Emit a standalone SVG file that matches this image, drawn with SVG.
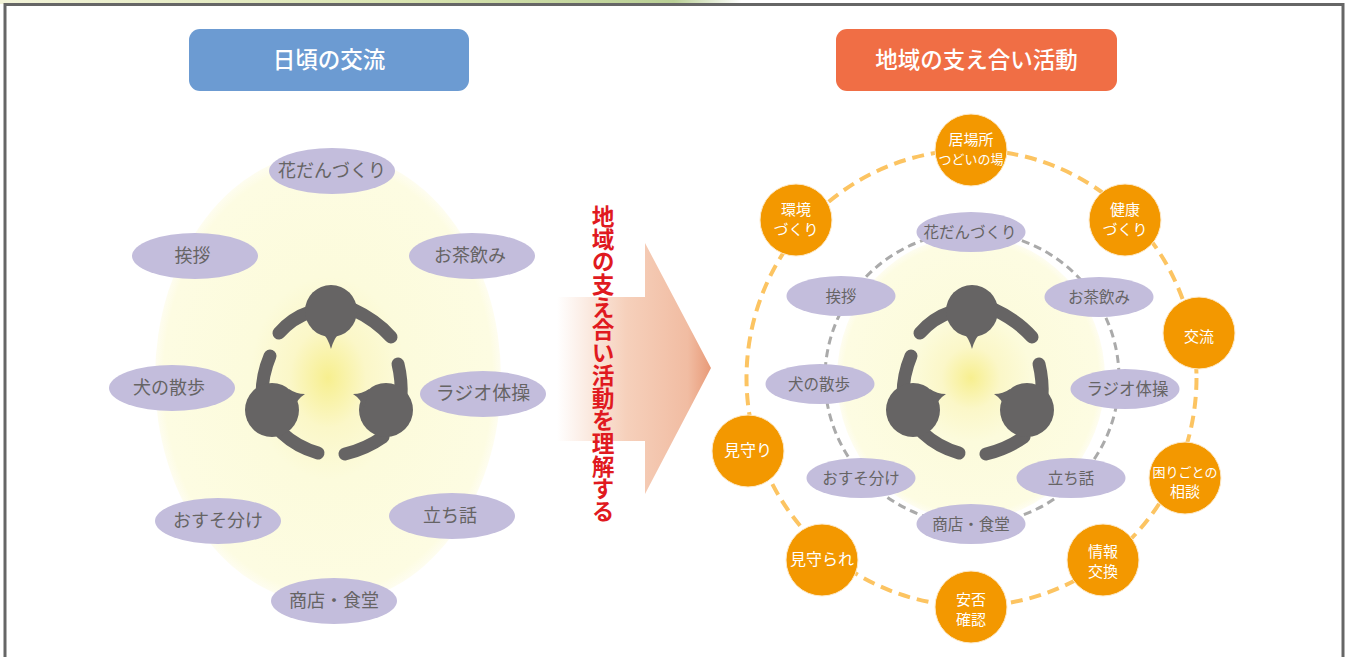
<svg xmlns="http://www.w3.org/2000/svg" xmlns:xlink="http://www.w3.org/1999/xlink" width="1348" height="657" viewBox="0 0 1348 657">
<style>
text{font-family:"Noto Sans CJK JP","Noto Sans CJK SC",sans-serif;text-anchor:middle}
.head{fill:#fff;font-size:22.500px;font-weight:500}
.el{fill:#c3bddc}
.t1{fill:#666464;font-size:18px}
.t2{fill:#666464;font-size:15.500px}
.c{fill:#f39800;stroke:#fde9c8;stroke-width:1}
.w{fill:#fff;font-size:15px}
.ws{fill:#fff;font-size:13px}
.arm{fill:none;stroke:#666464;stroke-width:13;stroke-linecap:round}
.body{fill:#666464}
</style>
<defs>
<linearGradient id="top" x1="0" x2="1" y1="0" y2="0"><stop offset="0" stop-color="#f2f3d8"/><stop offset="0.3" stop-color="#d9e4b0"/><stop offset="0.5" stop-color="#b9cf95"/><stop offset="0.55" stop-color="#fff"/><stop offset="1" stop-color="#fff"/></linearGradient>
<radialGradient id="glow"><stop offset="0" stop-color="#f7ef8f"/><stop offset="0.22" stop-color="#fbf7c8"/><stop offset="0.45" stop-color="#fcfbdc"/><stop offset="0.95" stop-color="#fdfce2"/><stop offset="1" stop-color="#fefdf0"/></radialGradient>
<linearGradient id="arrow" gradientUnits="userSpaceOnUse" x1="557" x2="711" y1="0" y2="0"><stop offset="0" stop-color="#fff"/><stop offset="0.45" stop-color="#f6d0bb"/><stop offset="0.85" stop-color="#f1bca2"/><stop offset="1" stop-color="#e89a78"/></linearGradient>
<g id="people">
<path class="arm" d="M279 333Q292 318 310 312"/>
<path class="arm" d="M391 337Q376 320 352 309"/>
<circle class="body" cx="331" cy="311" r="26"/>
<path class="body" d="M322 332Q328 338 331 349Q334 338 340 332Z"/>
<path class="arm" d="M270 356Q262 375 262 395"/>
<path class="arm" d="M318 453Q297 447 282 433"/>
<circle class="body" cx="272" cy="410" r="27"/>
<path class="body" d="M289 389Q296 394 305 394Q297 399 294 408Z"/>
<path class="arm" d="M398 364Q402 380 401 398"/>
<path class="arm" d="M345 454Q366 449 383 437"/>
<circle class="body" cx="386" cy="410" r="27"/>
<path class="body" d="M369 389Q362 394 353 394Q361 399 364 408Z"/>
</g>
</defs>
<rect width="1348" height="657" fill="#fff"/>
<rect width="1348" height="4" fill="url(#top)"/>
<rect x="5" y="4.500" width="1338" height="660" fill="#fff" stroke="#666" stroke-width="3"/>

<g id="glow-left"><ellipse cx="328" cy="378" rx="173" ry="226" fill="url(#glow)"/></g>
<g id="glow-right"><ellipse cx="971" cy="378" rx="134" ry="142" fill="url(#glow)"/></g>

<g id="connectors" fill="none">
<ellipse cx="971.500" cy="378" rx="225" ry="228" stroke="#fcc462" stroke-width="4" stroke-dasharray="12 7"/>
<ellipse cx="972" cy="378" rx="147" ry="146" stroke="#aaa" stroke-width="3" stroke-dasharray="8 5"/>
</g>

<g id="arrow-big">
<path d="M557 297H645V243L711 368L645 494V441H557Z" fill="url(#arrow)"/>
<text x="603" y="205" writing-mode="vertical-rl" style="font-size:22.700px;font-weight:700;fill:#e01a1f;text-anchor:start">地域の支え合い活動を理解する</text>
</g>

<g id="header-left"><rect x="189" y="29" width="280" height="62" rx="11" fill="#6c9bd2"/><text class="head" x="329" y="67.500">日頃の交流</text></g>
<g id="header-right"><rect x="836" y="29" width="281" height="62" rx="11" fill="#f06e45"/><text class="head" x="976.500" y="67.500">地域の支え合い活動</text></g>

<use xlink:href="#people" href="#people"/>
<use xlink:href="#people" href="#people" x="641"/>

<g id="l1"><ellipse class="el" cx="332" cy="171" rx="63" ry="23"/><text class="t1" x="332" y="177">花だんづくり</text></g>
<g id="l2"><ellipse class="el" cx="195" cy="256" rx="63" ry="23"/><text class="t1" x="192.500" y="262">挨拶</text></g>
<g id="l3"><ellipse class="el" cx="472" cy="256" rx="63" ry="23"/><text class="t1" x="470" y="262">お茶飲み</text></g>
<g id="l4"><ellipse class="el" cx="172" cy="388" rx="63" ry="23"/><text class="t1" x="169" y="394">犬の散歩</text></g>
<g id="l5"><ellipse class="el" cx="483" cy="394" rx="63" ry="23"/><text class="t1" x="483" y="400" style="font-size:19px">ラジオ体操</text></g>
<g id="l6"><ellipse class="el" cx="218" cy="521" rx="63" ry="23"/><text class="t1" x="218" y="527">おすそ分け</text></g>
<g id="l7"><ellipse class="el" cx="452" cy="516" rx="63" ry="23"/><text class="t1" x="450" y="522">立ち話</text></g>
<g id="l8"><ellipse class="el" cx="334" cy="601" rx="63" ry="23"/><text class="t1" x="334" y="607">商店・食堂</text></g>

<g id="r1"><ellipse class="el" cx="971" cy="232" rx="54.500" ry="20"/><text class="t2" x="970" y="237.500">花だんづくり</text></g>
<g id="r2"><ellipse class="el" cx="841" cy="296" rx="54.500" ry="20"/><text class="t2" x="841" y="301.500">挨拶</text></g>
<g id="r3"><ellipse class="el" cx="1099" cy="297" rx="54.500" ry="20"/><text class="t2" x="1099" y="302.500">お茶飲み</text></g>
<g id="r4"><ellipse class="el" cx="820" cy="384" rx="54.500" ry="20"/><text class="t2" x="819" y="389.500">犬の散歩</text></g>
<g id="r5"><ellipse class="el" cx="1125" cy="389" rx="54.500" ry="20"/><text class="t2" x="1127.500" y="394.500" style="font-size:16.500px">ラジオ体操</text></g>
<g id="r6"><ellipse class="el" cx="861" cy="478" rx="54.500" ry="20"/><text class="t2" x="861" y="483.500">おすそ分け</text></g>
<g id="r7"><ellipse class="el" cx="1071" cy="478" rx="54.500" ry="20"/><text class="t2" x="1071" y="483.500">立ち話</text></g>
<g id="r8"><ellipse class="el" cx="971" cy="524" rx="54.500" ry="20"/><text class="t2" x="971" y="529.500">商店・食堂</text></g>

<g id="n1"><circle class="c" cx="971" cy="150" r="36"/><text class="w" x="971" y="145">居場所</text><text class="ws" x="971" y="164">つどいの場</text></g>
<g id="n2"><circle class="c" cx="1125" cy="220" r="36"/><text class="w" x="1125" y="215">健康</text><text class="w" x="1125" y="235">づくり</text></g>
<g id="n3"><circle class="c" cx="1199" cy="333" r="36"/><text class="w" x="1199" y="342">交流</text></g>
<g id="n4"><circle class="c" cx="1185" cy="478" r="36"/><text class="ws" x="1185" y="477">困りごとの</text><text class="w" x="1185" y="497">相談</text></g>
<g id="n5"><circle class="c" cx="1103" cy="560" r="36"/><text class="w" x="1103" y="557">情報</text><text class="w" x="1103" y="577">交換</text></g>
<g id="n6"><circle class="c" cx="971" cy="607" r="36"/><text class="w" x="971" y="605">安否</text><text class="w" x="971" y="625">確認</text></g>
<g id="n7"><circle class="c" cx="822" cy="560" r="36"/><text class="w" x="822" y="565" style="font-size:16px">見守られ</text></g>
<g id="n8"><circle class="c" cx="748" cy="451" r="36"/><text class="w" x="748" y="456" style="font-size:16px">見守り</text></g>
<g id="n9"><circle class="c" cx="796" cy="220" r="36"/><text class="w" x="796" y="215">環境</text><text class="w" x="796" y="235">づくり</text></g>
</svg>
